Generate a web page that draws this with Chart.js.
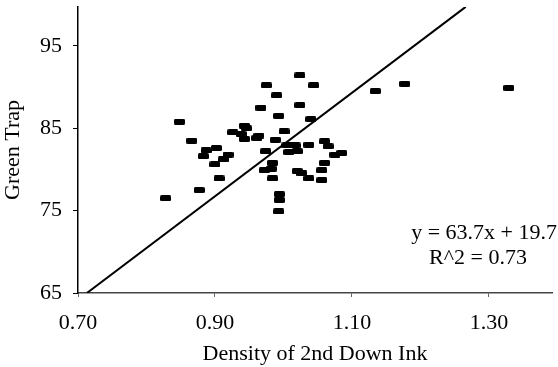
<!DOCTYPE html>
<html lang="en">
<head>
    <meta charset="UTF-8">
    <title>Green Trap vs Density of 2nd Down Ink</title>
    <script src="https://cdn.jsdelivr.net/npm/chart.js"></script>
    <style>
        html, body {
            margin: 0;
            padding: 0;
            background: #fff;
        }
        #wrap {
            position: relative;
            width: 558px;
            height: 367px;
        }
    </style>
</head>
<body>
    <div id="wrap">
        <canvas id="trapChart" width="558" height="367"></canvas>
    </div>
    <script>
        // measured points: ink density vs green trap (%)
        const density = [1.024, 0.975, 1.044, 0.990, 0.967, 1.024, 0.993, 1.040, 0.848, 0.943,
            0.946, 0.926, 0.938, 0.943, 0.961, 0.964, 1.001, 0.866, 0.988, 0.887,
            0.902, 0.883, 0.919, 0.912, 0.900, 0.974, 1.005, 1.017, 1.008, 1.020,
            1.037, 1.060, 1.065, 1.075, 1.085, 1.060, 0.984, 0.982, 0.972, 1.020,
            1.027, 1.037, 1.056, 1.056, 0.984, 0.906, 0.877, 0.828, 0.994, 0.994,
            0.993, 1.134, 1.177, 1.329];
        const greenTrap = [91.4, 90.2, 90.2, 89.0, 87.5, 87.8, 86.5, 86.1, 85.8, 85.3,
            85.0, 84.5, 84.3, 83.7, 83.8, 84.1, 84.6, 83.5, 83.6, 82.3,
            82.6, 81.6, 81.8, 81.2, 80.6, 82.2, 82.9, 82.9, 82.1, 82.2,
            83.0, 83.4, 82.8, 81.8, 82.0, 80.8, 80.8, 80.1, 79.9, 79.8,
            79.5, 78.9, 79.9, 78.7, 78.9, 78.9, 77.5, 76.5, 77.0, 76.3,
            74.9, 89.5, 90.4, 89.9];

        // fitted line as drawn
        const trendX = [0.713, 1.266];
        const trendY = [65, 99.72];

        const xTicks = [0.70, 0.90, 1.10, 1.30];
        const yTicks = [65, 75, 85, 95];
        const eqText = 'y = 63.7x + 19.7';
        const r2Text = 'R^2 = 0.73';

        const serif = '"Liberation Serif", "Times New Roman", serif';

        // small flat marker like the scanned original
        function makeMarker() {
            const c = document.createElement('canvas');
            c.width = 11;
            c.height = 6;
            const g = c.getContext('2d');
            g.fillStyle = '#000';
            g.beginPath();
            g.roundRect(0, 0, 11, 6, 1.5);
            g.fill();
            return c;
        }

        // keep the plot frame fixed, no extra room for half labels
        function noPad(s) {
            s.paddingTop = 0;
            s.paddingBottom = 0;
            s.paddingLeft = 0;
            s.paddingRight = 0;
        }

        const labelPlugin = {
            id: 'eqLabel',
            afterDraw(chart) {
                const ctx = chart.ctx;
                ctx.save();
                ctx.fillStyle = '#000';
                ctx.font = '22px ' + serif;
                ctx.textBaseline = 'middle';
                ctx.textAlign = 'right';
                ctx.fillText(eqText, 557, 233);
                ctx.textAlign = 'center';
                ctx.fillText(r2Text, 478, 258);
                ctx.restore();
            }
        };

        const points = density.map((x, i) => ({ x: x, y: greenTrap[i] }));
        const trend = trendX.map((x, i) => ({ x: x, y: trendY[i] }));

        new Chart(document.getElementById('trapChart'), {
            type: 'scatter',
            data: {
                datasets: [
                    {
                        data: points,
                        pointStyle: makeMarker(),
                        pointRadius: 5,
                        backgroundColor: '#000',
                        borderColor: '#000'
                    },
                    {
                        type: 'line',
                        data: trend,
                        borderColor: '#000',
                        borderWidth: 2,
                        pointRadius: 0,
                        fill: false
                    }
                ]
            },
            options: {
                responsive: false,
                animation: false,
                events: [],
                layout: { padding: { top: 7, right: 0, left: 0, bottom: 0 } },
                plugins: {
                    legend: { display: false },
                    tooltip: { enabled: false }
                },
                scales: {
                    x: {
                        type: 'linear',
                        min: 0.70,
                        max: 1.392,
                        afterBuildTicks: s => { s.ticks = xTicks.map(v => ({ value: v })); },
                        afterFit: s => { s.height = 74; noPad(s); },
                        border: { color: '#444', width: 1.5 },
                        grid: { drawOnChartArea: false, tickLength: 4, color: '#666' },
                        ticks: {
                            color: '#000',
                            padding: 13,
                            maxRotation: 0,
                            font: { family: serif, size: 22 },
                            callback: v => v.toFixed(2)
                        },
                        title: {
                            display: true,
                            text: 'Density of 2nd Down Ink',
                            color: '#000',
                            font: { family: serif, size: 22 },
                            padding: { top: 0, bottom: 0 }
                        }
                    },
                    y: {
                        type: 'linear',
                        min: 65,
                        max: 99.7,
                        afterBuildTicks: s => { s.ticks = yTicks.map(v => ({ value: v })); },
                        afterFit: s => { s.width = 78; noPad(s); },
                        border: { color: '#000', width: 1.5 },
                        grid: { drawOnChartArea: false, tickLength: 5, color: '#000' },
                        ticks: {
                            color: '#000',
                            padding: 11,
                            font: { family: serif, size: 22 }
                        },
                        title: {
                            display: true,
                            text: 'Green Trap',
                            color: '#000',
                            font: { family: serif, size: 22 },
                            padding: { top: 0, bottom: 0 }
                        }
                    }
                }
            },
            plugins: [labelPlugin]
        });
    </script>
</body>
</html>
